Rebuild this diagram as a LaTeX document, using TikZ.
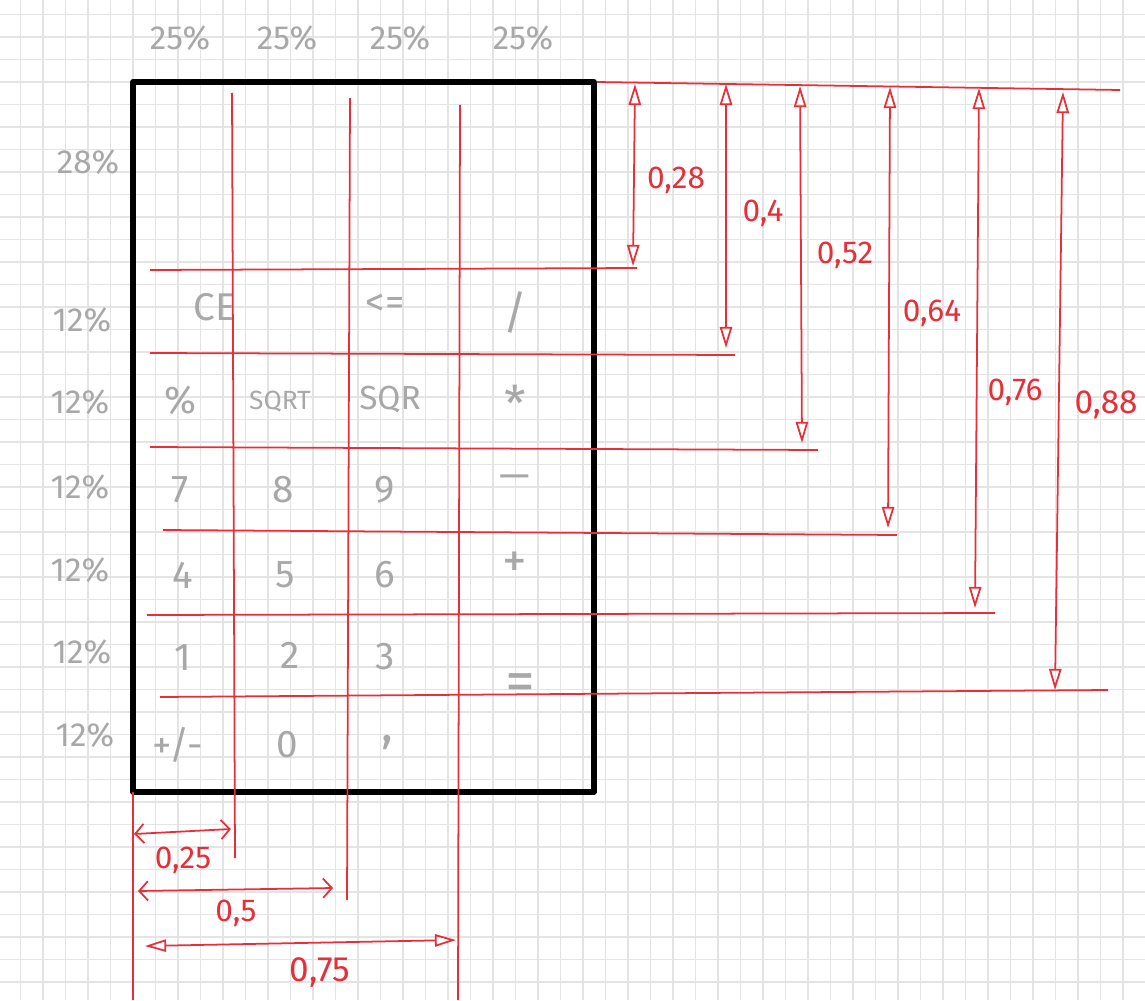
\documentclass[tikz,border=0pt]{standalone}
\usepackage{fontspec}
\setmainfont{Fira Sans}
\usetikzlibrary{arrows.meta}
\definecolor{sketchred}{HTML}{E5303A}
\definecolor{pencil}{HTML}{A8A8A8}
\definecolor{gridc}{HTML}{E4E4E4}
\begin{document}
\begin{tikzpicture}[x=0.02cm,y=-0.02cm,
  gridline/.style={draw=gridc, line width=0.7pt},
  redline/.style={draw=sketchred, line width=1pt},
  dimtri/.style={redline, {Triangle[open,length=12pt,width=7pt]}-{Triangle[open,length=12pt,width=7pt]}},
  dimbarb/.style={redline, {Straight Barb[length=5pt,width=11pt]}-{Straight Barb[length=5pt,width=11pt]}},
  keytxt/.style={text=pencil, font=\fontsize{22}{26}\selectfont, inner sep=0pt},
  pcttxt/.style={text=pencil, font=\fontsize{19}{22}\selectfont, inner sep=0pt},
  redtxt/.style={text=sketchred, font=\fontsize{18}{21}\selectfont, inner sep=0pt},
  frame/.style={draw=black, line width=3.3pt, line join=round}]
\useasboundingbox (0,0) rectangle (1145,1000);
\fill[white] (0,0) rectangle (1145,1000);
% background grid
\foreach \i in {0,...,50} \draw[gridline] ({20.5+22.5*\i},0) -- ({20.5+22.5*\i},1000);
\foreach \j in {0,...,44} \draw[gridline] (0,{14.5+22.5*\j}) -- (1145,{14.5+22.5*\j});

% frame
\coordinate (fTL) at (133,82);
\coordinate (fBR) at (594,792);
\draw[frame] (fTL) rectangle (fBR);

% column headers
\node[pcttxt] (h1) at (180,38) {25\%};
\node[pcttxt] (h2) at (287,38) {25\%};
\node[pcttxt] (h3) at (400,38) {25\%};
\node[pcttxt] (h4) at (523,38) {25\%};
% row labels
\node[pcttxt] (r0) at (88,162) {28\%};
\node[pcttxt] (r1) at (82,320) {12\%};
\node[pcttxt] (r2) at (80,402) {12\%};
\node[pcttxt] (r3) at (80,487) {12\%};
\node[pcttxt] (r4) at (80,570) {12\%};
\node[pcttxt] (r5) at (82,652) {12\%};
\node[pcttxt] (r6) at (85,735) {12\%};

% keys
\node[keytxt] (kCE) at (215,307) {CE};
\node[keytxt] (kBack) at (385,305) {<=};
\node[keytxt,font=\fontsize{26}{30}\selectfont] (kDiv) at (515,312) {/};
\node[keytxt] (kPct) at (180,400) {\%};
\node[keytxt,font=\fontsize{15}{18}\selectfont] (kSqrt) at (280,402) {SQRT};
\node[keytxt,font=\fontsize{19}{22}\selectfont] (kSqr) at (390,400) {SQR};
\node[keytxt,font=\fontsize{28}{30}\selectfont] (kMul) at (515,403) {*};
\node[keytxt] (k7) at (180,490) {7};
\node[keytxt] (k8) at (283,490) {8};
\node[keytxt] (k9) at (385,490) {9};
\node[keytxt] (kMin) at (515,482) {---};
\node[keytxt,font=\fontsize{28}{30}\selectfont] (kPlus) at (515,565) {+};
\node[keytxt] (k4) at (183,575) {4};
\node[keytxt] (k5) at (285,575) {5};
\node[keytxt] (k6) at (385,575) {6};
\node[keytxt] (k1) at (183,658) {1};
\node[keytxt] (k2) at (290,655) {2};
\node[keytxt] (k3) at (385,657) {3};
\node[keytxt,font=\fontsize{34}{36}\selectfont] (kEq) at (520,688) {=};
\node[keytxt] (kNeg) at (178,745) {+/-};
\node[keytxt] (k0) at (287,745) {0};
\node[keytxt,font=\fontsize{28}{30}\selectfont] (kDot) at (387,742) {,};

% column divider lines
\coordinate (c1t) at (232,93);  \coordinate (c1b) at (235,858);
\coordinate (c2t) at (350,98);  \coordinate (c2b) at (347,900);
\coordinate (c3t) at (460,105); \coordinate (c3b) at (458,1000);
\coordinate (c0t) at (133,792); \coordinate (c0b) at (133,1000);
\draw[redline] (c1t) -- (c1b);
\draw[redline] (c2t) -- (c2b);
\draw[redline] (c3t) -- (c3b);
\draw[redline] (c0t) -- (c0b);

% top reference line
\coordinate (topL) at (597,82);
\coordinate (topR) at (1120,90);
\draw[redline] (topL) -- (topR);

% row divider lines
\coordinate (l1a) at (150,270); \coordinate (l1b) at (637,268);
\coordinate (l2a) at (150,353); \coordinate (l2b) at (735,355);
\coordinate (l3a) at (150,447); \coordinate (l3b) at (818,450);
\coordinate (l4a) at (163,530); \coordinate (l4b) at (897,535);
\coordinate (l5a) at (147,615); \coordinate (l5b) at (995,613);
\coordinate (l6a) at (160,697); \coordinate (l6b) at (1108,690);
\draw[redline] (l1a) -- (l1b);
\draw[redline] (l2a) -- (l2b);
\draw[redline] (l3a) -- (l3b);
\draw[redline] (l4a) -- (l4b);
\draw[redline] (l5a) -- (l5b);
\draw[redline] (l6a) -- (l6b);

% vertical dimension arrows
\coordinate (d1t) at (635,84);  \coordinate (d1b) at (633,266);
\coordinate (d2t) at (726,84);  \coordinate (d2b) at (726,348);
\coordinate (d3t) at (800,86);  \coordinate (d3b) at (802,443);
\coordinate (d4t) at (890,87);  \coordinate (d4b) at (888,528);
\coordinate (d5t) at (979,88);  \coordinate (d5b) at (975,608);
\coordinate (d6t) at (1063,92); \coordinate (d6b) at (1055,690);
\draw[dimtri] (d1t) -- (d1b);
\draw[dimtri] (d2t) -- (d2b);
\draw[dimtri] (d3t) -- (d3b);
\draw[dimtri] (d4t) -- (d4b);
\draw[dimtri] (d5t) -- (d5b);
\draw[dimtri] (d6t) -- (d6b);
\node[redtxt] (v1) at (676,180) {0,28};
\node[redtxt] (v2) at (763,213) {0,4};
\node[redtxt] (v3) at (845,255) {0,52};
\node[redtxt] (v4) at (932,313) {0,64};
\node[redtxt] (v5) at (1015,392) {0,76};
\node[redtxt,font=\fontsize{19}{22}\selectfont] (v6) at (1106,405) {0,88};

% horizontal dimension arrows
\coordinate (w1a) at (134,834); \coordinate (w1b) at (231,829);
\coordinate (w2a) at (138,891); \coordinate (w2b) at (333,888);
\coordinate (w3a) at (145,946); \coordinate (w3b) at (456,940);
\draw[dimbarb] (w1a) -- (w1b);
\draw[dimbarb] (w2a) -- (w2b);
\draw[dimtri] (w3a) -- (w3b);
\node[redtxt] (u1) at (183,860) {0,25};
\node[redtxt] (u2) at (236,913) {0,5};
\node[redtxt,font=\fontsize{20}{23}\selectfont] (u3) at (320,972) {0,75};
\end{tikzpicture}
\end{document}
